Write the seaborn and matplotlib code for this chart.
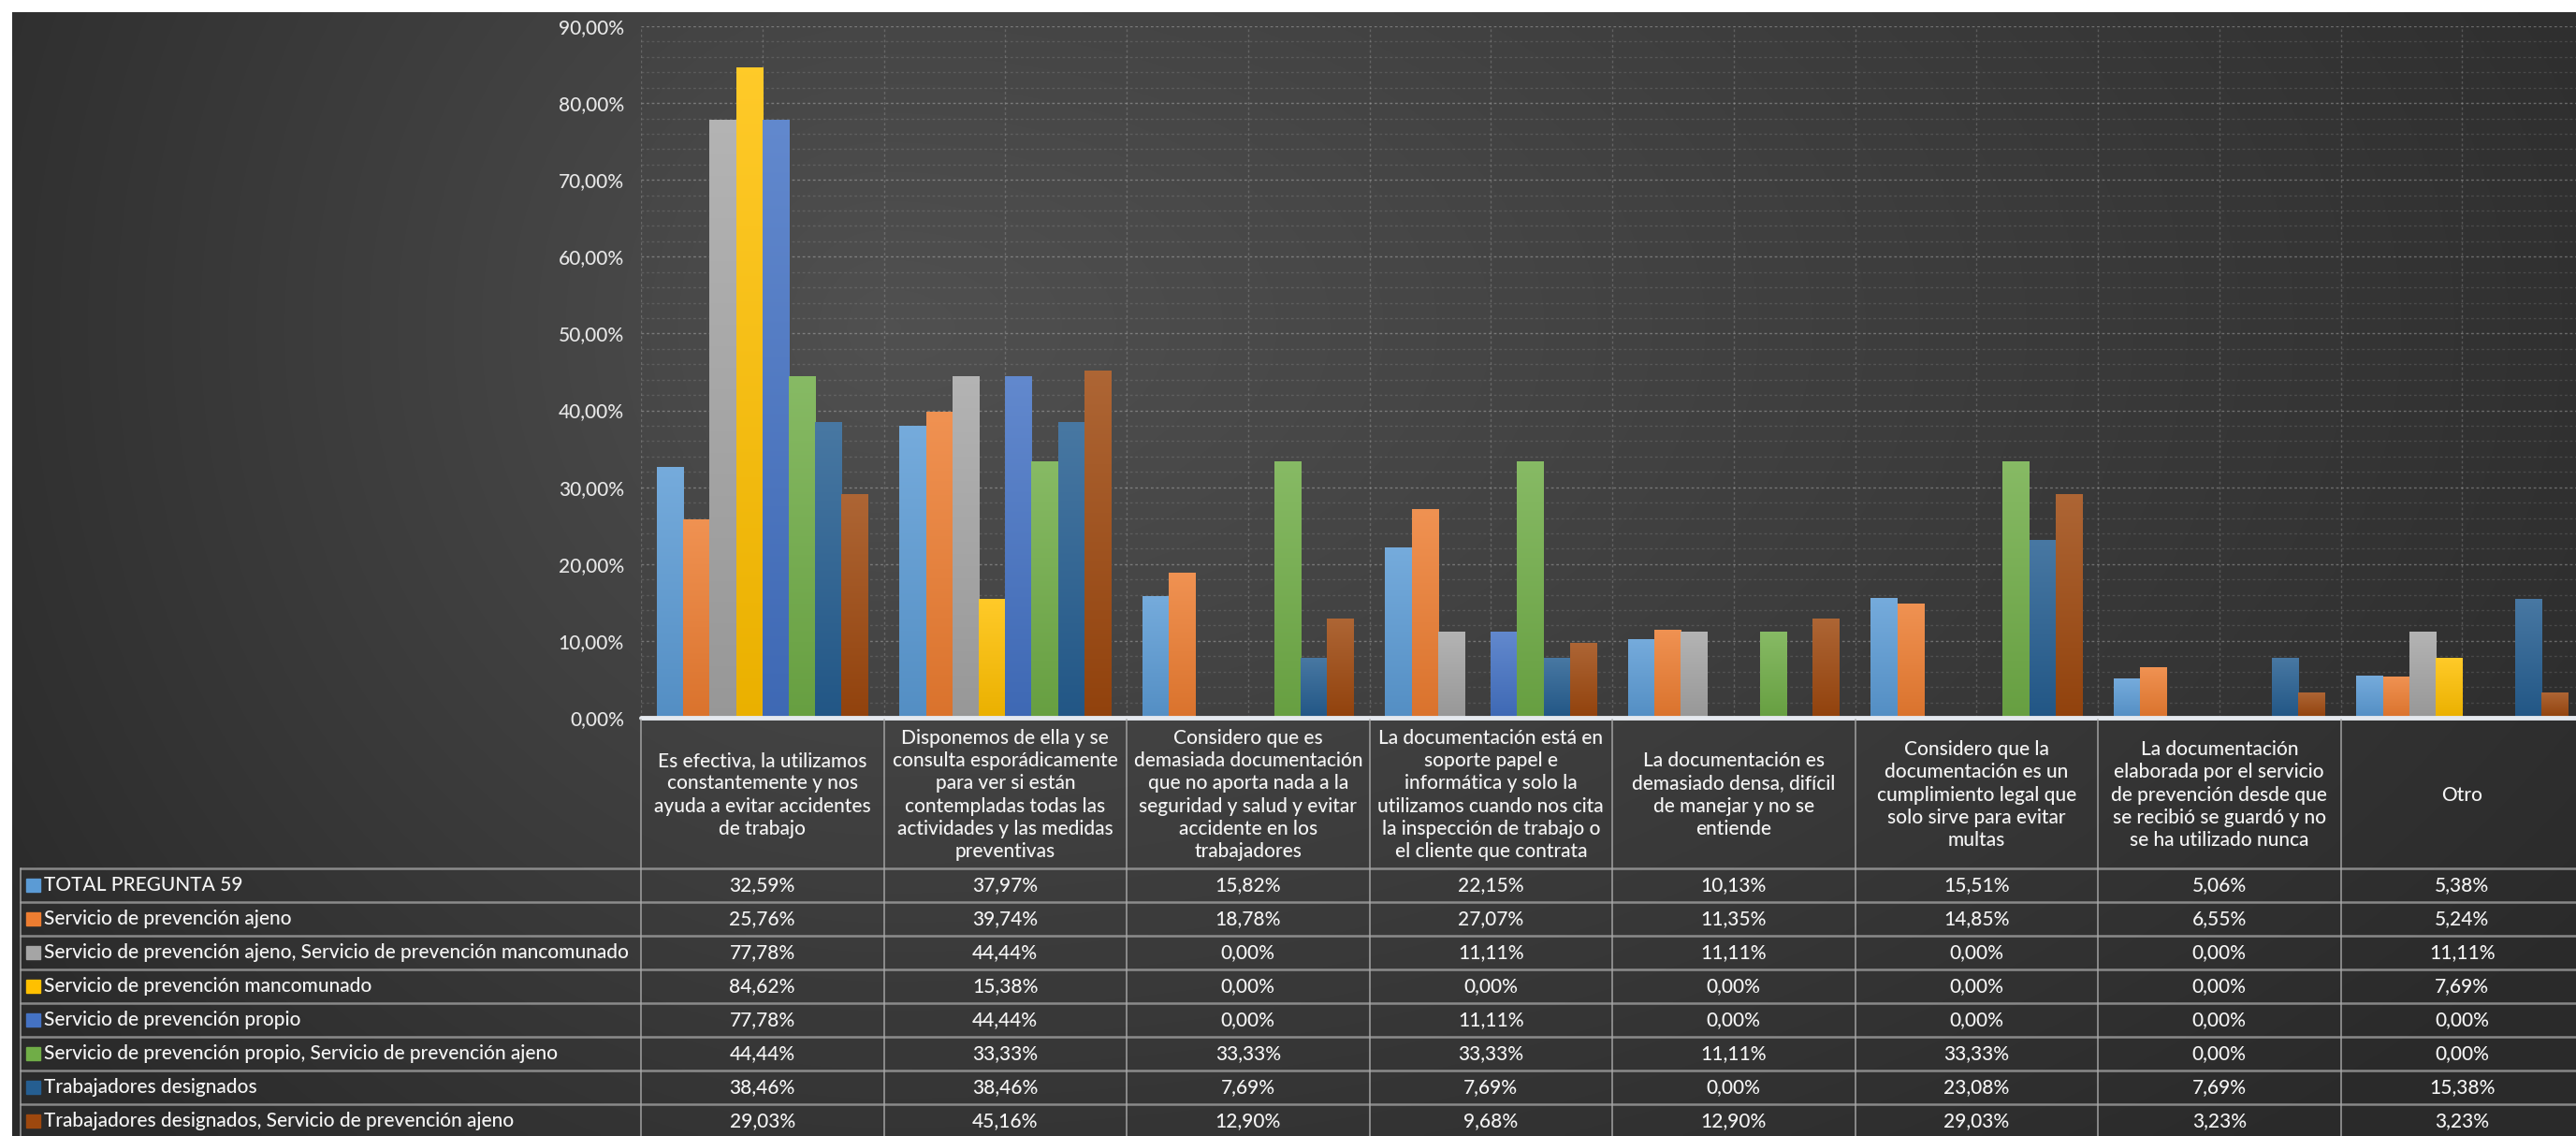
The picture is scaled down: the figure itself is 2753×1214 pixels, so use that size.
import numpy as np
import pandas as pd
import matplotlib
matplotlib.use("Agg")
import matplotlib.pyplot as plt
import matplotlib.transforms as mtransforms
from matplotlib.colors import to_rgb
from matplotlib.lines import Line2D
from matplotlib.patches import Rectangle
from matplotlib.ticker import FuncFormatter
import seaborn as sns

# ---------------------------------------------------------------- data
categories = [
    "Es efectiva, la utilizamos\nconstantemente y nos\nayuda a evitar accidentes\nde trabajo",
    "Disponemos de ella y se\nconsulta esporádicamente\npara ver si están\ncontempladas todas las\nactividades y las medidas\npreventivas",
    "Considero que es\ndemasiada documentación\nque no aporta nada a la\nseguridad y salud y evitar\naccidente en los\ntrabajadores",
    "La documentación está en\nsoporte papel e\ninformática y solo la\nutilizamos cuando nos cita\nla inspección de trabajo o\nel cliente que contrata",
    "La documentación es\ndemasiado densa, difícil\nde manejar y no se\nentiende",
    "Considero que la\ndocumentación es un\ncumplimiento legal que\nsolo sirve para evitar\nmultas",
    "La documentación\nelaborada por el servicio\nde prevención desde que\nse recibió se guardó y no\nse ha utilizado nunca",
    "Otro",
]

series = [
    "TOTAL PREGUNTA 59",
    "Servicio de prevención ajeno",
    "Servicio de prevención ajeno, Servicio de prevención mancomunado",
    "Servicio de prevención mancomunado",
    "Servicio de prevención propio",
    "Servicio de prevención propio, Servicio de prevención ajeno",
    "Trabajadores designados",
    "Trabajadores designados, Servicio de prevención ajeno",
]

total_pregunta = [32.59, 37.97, 15.82, 22.15, 10.13, 15.51, 5.06, 5.38]
spa = [25.76, 39.74, 18.78, 27.07, 11.35, 14.85, 6.55, 5.24]
spa_spm = [77.78, 44.44, 0.00, 11.11, 11.11, 0.00, 0.00, 11.11]
spm = [84.62, 15.38, 0.00, 0.00, 0.00, 0.00, 0.00, 7.69]
spp = [77.78, 44.44, 0.00, 11.11, 0.00, 0.00, 0.00, 0.00]
spp_spa = [44.44, 33.33, 33.33, 33.33, 11.11, 33.33, 0.00, 0.00]
td = [38.46, 38.46, 7.69, 7.69, 0.00, 23.08, 7.69, 15.38]
td_spa = [29.03, 45.16, 12.90, 9.68, 12.90, 29.03, 3.23, 3.23]

values = [total_pregunta, spa, spa_spm, spm, spp, spp_spa, td, td_spa]
y_ticks = [0, 10, 20, 30, 40, 50, 60, 70, 80, 90]

colors = ["#5B9BD5", "#ED7D31", "#A5A5A5", "#FFC000",
          "#4472C4", "#70AD47", "#255E91", "#9E480E"]

df = pd.DataFrame(
    [(cat, s, v) for s, vals in zip(series, values) for cat, v in zip(categories, vals)],
    columns=["respuesta", "servicio", "porcentaje"],
)

# ---------------------------------------------------------------- figure
W, H, DPI = 2753, 1214, 100
FS = 15
FW = "medium"
TXT = "#f4f4f4"
sns.set_theme(style="dark")
plt.rcParams["font.family"] = ["Lato", "DejaVu Sans"]

fig = plt.figure(figsize=(W / DPI, H / DPI), dpi=DPI, facecolor="white")


def fy(px):
    return 1 - px / H


def pct(v):
    return f"{v:.2f}".replace(".", ",") + "%"


# dark radial backdrop
bg = fig.add_axes([13 / W, 0, 1 - 13 / W, 1 - 13 / H], zorder=-10)
ny, nx = 300, 800
gy, gx = np.mgrid[0:1:ny * 1j, 0:1:nx * 1j]
cx, cy = 0.34, 0.28
sx = np.where(gx < cx, 0.42, 0.80)
d = np.sqrt(((gx - cx) / sx) ** 2 + ((gy - cy) / 1.0) ** 2)
lum = 0.315 - 0.15 * np.clip(d, 0, 1)
bg.imshow(np.dstack([lum, lum, lum]), aspect="auto", extent=(0, 1, 0, 1),
          origin="upper", interpolation="bilinear")
bg.set_axis_off()

ax_left, ax_right = 685 / W, 2761 / W
ax_top, ax_bot = fy(28), fy(767)
ax = fig.add_axes([ax_left, ax_bot, ax_right - ax_left, ax_top - ax_bot])
ax.set_facecolor("none")

sns.barplot(data=df, x="respuesta", y="porcentaje", hue="servicio",
            order=categories, hue_order=series, palette=colors,
            width=0.87, saturation=1, legend=False, errorbar=None, ax=ax,
            zorder=2)

# vertical shading on each bar: lighter top, deeper base
for p in list(ax.patches):
    h = p.get_height()
    c = np.array(to_rgb(p.get_facecolor()))
    p.set_facecolor("none")
    p.set_edgecolor("none")
    if h <= 0:
        continue
    x0, w = p.get_x(), p.get_width()
    t = np.linspace(0, 1, 64)[:, None]
    top = c + (1 - c) * 0.16
    base = c * 0.92
    grad = (top * (1 - t) + base * t)[:, None, :]
    ax.imshow(grad, extent=(x0, x0 + w, 0, h), origin="upper",
              aspect="auto", zorder=2, interpolation="bilinear")

ax.set_xlim(-0.5, len(categories) - 0.5)
ax.set_ylim(0, 90)
ax.set_yticks(y_ticks)
ax.yaxis.set_major_formatter(FuncFormatter(lambda v, _: pct(v)))
ax.set_yticks(np.arange(0, 91, 2), minor=True)
ax.set_xticks(np.arange(-0.5, len(categories), 0.5), minor=True)
ax.set_xticks([])
ax.tick_params(axis="y", which="both", length=0, pad=13, labelsize=FS,
               labelcolor="#e6e6e6")
for lbl in ax.get_yticklabels():
    lbl.set_fontweight(FW)
ax.tick_params(axis="x", which="both", length=0)
ax.set_xlabel("")
ax.set_ylabel("")
for s in ax.spines.values():
    s.set_visible(False)
ax.grid(False)
ax.grid(True, axis="y", which="major", color="white", alpha=0.28, lw=1.0,
        ls=(0, (2, 2)), zorder=0)
ax.grid(True, axis="y", which="minor", color="white", alpha=0.12, lw=1.0,
        ls=(0, (2, 2)), zorder=0)
ax.grid(True, axis="x", which="minor", color="white", alpha=0.18, lw=1.0,
        ls=(0, (2, 2)), zorder=0)
ax.axhline(0, color="#e4e8ee", lw=3.5, zorder=4, clip_on=False)

# ---------------------------------------------------------------- data table
trans = mtransforms.blended_transform_factory(ax.transData, fig.transFigure)
head_top, head_bot = 767, 928
row_h = 36.0
line_col = "#a8a8a8"

for k in range(len(categories) + 1):
    fig.add_artist(Line2D([k - 0.5, k - 0.5], [fy(head_top + 2), fy(1214)],
                          transform=trans, color=line_col, lw=1.3, alpha=0.8))
fig.add_artist(Line2D([22 / W, 22 / W], [fy(head_bot), fy(1214)],
                      transform=fig.transFigure, color=line_col, lw=1.3, alpha=0.8))
for r in range(len(series) + 1):
    yb = head_bot + r * row_h
    fig.add_artist(Line2D([22 / W, 1], [fy(yb), fy(yb)],
                          transform=fig.transFigure, color=line_col, lw=1.8,
                          alpha=0.75))

for j, cat in enumerate(categories):
    fig.text(j, fy((head_top + head_bot) / 2 + 2), cat, transform=trans,
             ha="center", va="center", multialignment="center",
             fontsize=FS, fontweight=FW, color=TXT, linespacing=1.27)

for r, (name, vals, col) in enumerate(zip(series, values, colors)):
    yc = head_bot + (r + 0.5) * row_h
    fig.add_artist(Rectangle((28 / W, fy(yc + 7)), 15 / W, 14 / H,
                             transform=fig.transFigure, color=col))
    fig.text(47 / W, fy(yc), name, transform=fig.transFigure,
             ha="left", va="center", fontsize=FS, fontweight=FW, color=TXT)
    for j, v in enumerate(vals):
        fig.text(j, fy(yc), pct(v), transform=trans,
                 ha="center", va="center", fontsize=FS, fontweight=FW, color=TXT)

fig.savefig("out.png", dpi=DPI, facecolor="white")
